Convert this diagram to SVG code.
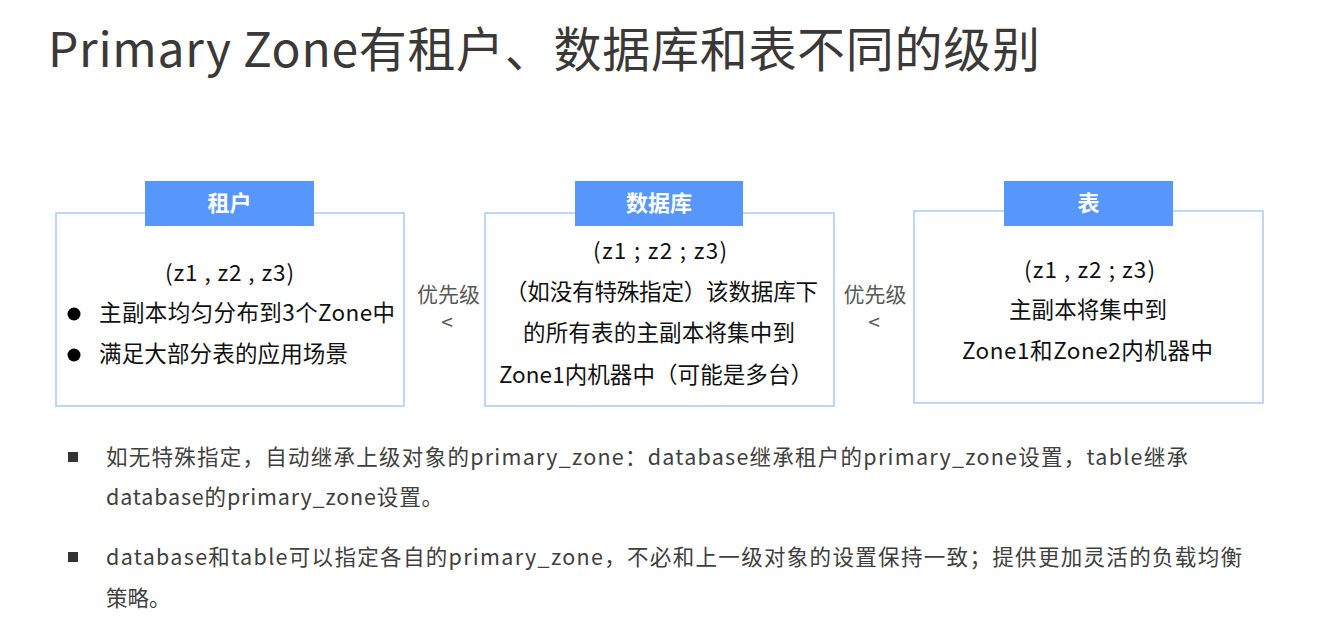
<svg xmlns="http://www.w3.org/2000/svg" width="1336" height="618" viewBox="0 0 1336 618">
<style>
text{font-family:"Noto Sans CJK SC","Noto Sans",sans-serif;}
.title{font-size:48px;fill:#3b3838;}
.box{fill:#fff;stroke:#a9c9f7;stroke-width:1.5;}
.hdr{fill:#5797fb;}
.htxt{font-size:22px;font-weight:bold;fill:#fff;text-anchor:middle;}
.t{font-size:22.5px;fill:#111;}
.pri{font-size:21px;fill:#595959;text-anchor:middle;}
.b{font-size:21.5px;fill:#404040;}
</style>
<rect width="1336" height="618" fill="#fff"/>
<text class="title" x="48" y="67" textLength="992">Primary Zone有租户、数据库和表不同的级别</text>

<g id="node-tenant">
<rect class="box" x="56" y="213" width="348" height="193"/>
<rect class="hdr" x="145" y="181" width="169" height="45"/>
<text class="htxt" x="229.5" y="211">租户</text>
<text class="t" x="165" y="281" textLength="129">(z1 , z2 , z3)</text>
<circle cx="74" cy="314" r="6.5" fill="#000"/>
<text class="t" x="99" y="321" textLength="296">主副本均匀分布到3个Zone中</text>
<circle cx="74" cy="355" r="6.5" fill="#000"/>
<text class="t" x="99" y="362" textLength="249">满足大部分表的应用场景</text>
</g>

<g id="node-database">
<rect class="box" x="485" y="213" width="349" height="193"/>
<rect class="hdr" x="575" y="181" width="168" height="45"/>
<text class="htxt" x="659" y="211">数据库</text>
<text class="t" x="593" y="259" textLength="134">(z1 ; z2 ; z3)</text>
<text class="t" x="505" y="300" textLength="313">（如没有特殊指定）该数据库下</text>
<text class="t" x="523" y="341" textLength="272">的所有表的主副本将集中到</text>
<text class="t" x="499" y="383" textLength="314">Zone1内机器中（可能是多台）</text>
</g>

<g id="node-table">
<rect class="box" x="914" y="211" width="349" height="192"/>
<rect class="hdr" x="1004" y="181" width="169" height="45"/>
<text class="htxt" x="1088.5" y="211">表</text>
<text class="t" x="1024" y="278" textLength="131">(z1 , z2 ; z3)</text>
<text class="t" x="1009" y="318" textLength="158">主副本将集中到</text>
<text class="t" x="962" y="359" textLength="251">Zone1和Zone2内机器中</text>
</g>

<g id="connectors">
<text class="pri" x="448.5" y="302">优先级</text>
<text class="pri" x="447" y="330">&lt;</text>
<text class="pri" x="875" y="302">优先级</text>
<text class="pri" x="874" y="330">&lt;</text>
</g>

<g id="notes">
<rect x="68" y="452" width="10" height="10" fill="#333"/>
<text class="b" x="106" y="465" textLength="1082">如无特殊指定，自动继承上级对象的primary_zone：database继承租户的primary_zone设置，table继承</text>
<text class="b" x="106" y="505" textLength="337">database的primary_zone设置。</text>
<rect x="68" y="552" width="10" height="10" fill="#333"/>
<text class="b" x="106" y="565" textLength="1136">database和table可以指定各自的primary_zone，不必和上一级对象的设置保持一致；提供更加灵活的负载均衡</text>
<text class="b" x="106" y="606">策略。</text>
</g>
</svg>
